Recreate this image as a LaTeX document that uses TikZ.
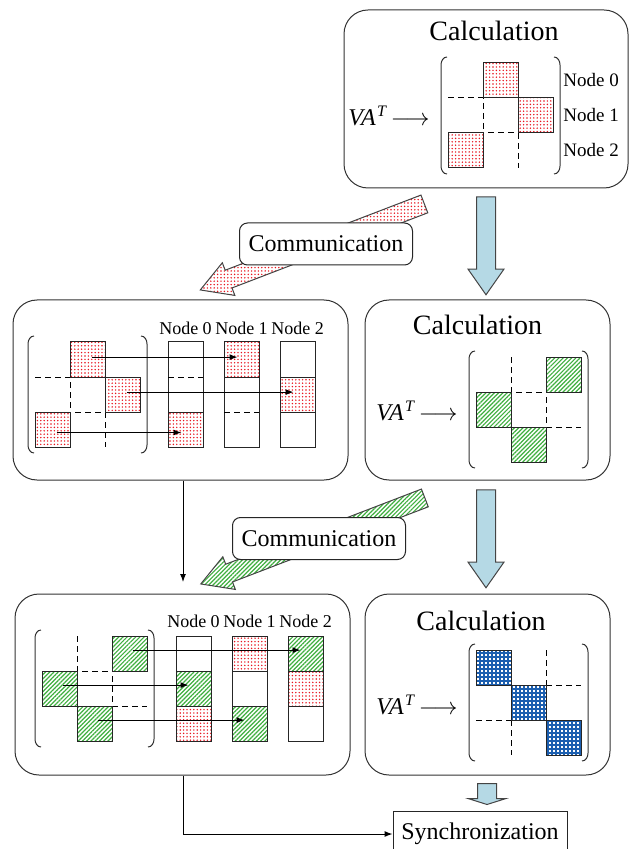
\documentclass[tikz,border=0pt]{standalone}
\usepackage{fontspec}
\setmainfont{Liberation Serif}
\usetikzlibrary{arrows.meta,positioning,shapes.arrows,patterns.meta}
\definecolor{dotred}{HTML}{E8141E}
\definecolor{hatchgreen}{HTML}{3FAF3F}
\definecolor{gridblue}{HTML}{1C5FB0}
\definecolor{flowblue}{HTML}{B5D9E5}
\definecolor{edgegray}{HTML}{444444}
\tikzset{
  stage/.style={rounded corners=12pt,draw=black!80,line width=0.5pt,inner sep=0pt},
  ttl/.style={font=\fontsize{14}{16}\selectfont,inner sep=0pt},
  nlbl/.style={font=\fontsize{9}{11}\selectfont,inner sep=0pt},
  vat/.style={font=\fontsize{12}{14}\selectfont,inner sep=0pt,anchor=east},
  cell/.style={draw=black!85,line width=0.5pt,minimum size=17.5pt,inner sep=0pt},
  col/.style={cell,minimum height=52.5pt},
  reddots/.style={preaction={fill=white},pattern={Dots[distance=1.7pt,radius=0.4pt]},pattern color=dotred},
  greenhatch/.style={preaction={fill=white},pattern={Lines[angle=45,distance=1.5pt,line width=0.6pt]},pattern color=hatchgreen},
  bluegrid/.style={preaction={fill=white},pattern={Hatch[angle=0,distance=2pt,line width=0.6pt]},pattern color=gridblue},
  sep/.style={dash pattern=on 3pt off 2pt,line width=0.5pt},
  brk/.style={line width=0.5pt,draw=black!80},
  ar/.style={-{Latex[length=4pt,width=3pt]},line width=0.5pt},
  fatdown/.style={single arrow,draw=edgegray,fill=flowblue,line width=0.5pt,rotate=-90,inner xsep=0pt,
    inner ysep=4.5pt,minimum height=49pt,single arrow head extend=4.25pt,single arrow tip angle=70},
  fatsend/.style={single arrow,draw=edgegray,line width=0.5pt,rotate=201,inner xsep=0pt,
    inner ysep=4.5pt,minimum height=120pt,single arrow head extend=4pt,single arrow tip angle=60},
  tag/.style={draw=black!85,fill=white,rounded corners=4pt,line width=0.5pt,font=\fontsize{12}{14}\selectfont,
    minimum width=86.5pt,minimum height=21pt,inner sep=0pt},
}
\newcommand{\vaT}{\textit{VA}\kern0.6pt\raisebox{4.5pt}{\fontsize{8}{9}\selectfont\textit{T}}\,$\longrightarrow$}
\begin{document}
\begin{tikzpicture}[x=0.5pt,y=-0.5pt]
  \useasboundingbox (0,0) rectangle (630,849);
  % stage boxes
  \node[stage,minimum width=142pt,minimum height=89pt] (calc1) at (486,99) {};
  \node[stage,minimum width=167.5pt,minimum height=90pt] (send1) at (180.5,390) {};
  \node[stage,minimum width=122.5pt,minimum height=90pt] (calc2) at (487.5,390) {};
  \node[stage,minimum width=167.5pt,minimum height=90.5pt] (send2) at (182.5,684.5) {};
  \node[stage,minimum width=122.5pt,minimum height=90.5pt] (calc3) at (487.5,684.5) {};
  \node[draw=black!85,line width=0.5pt,font=\fontsize{12}{14}\selectfont,minimum width=87pt,
    minimum height=23pt,inner sep=0pt] (sync) at (480,834) {Synchronization};
  \node[ttl] (t1) at (494,31) {Calculation};
  \node[ttl] (t2) at (477.5,325) {Calculation};
  \node[ttl] (t3) at (481,621) {Calculation};

  % first calculation, red blocks
  \draw[sep] (483,63) -- (483,168) (518,63) -- (518,168) (448,98) -- (553,98) (448,133) -- (553,133);
  \node[cell,reddots] (a0) at (500.5,80.5) {};
  \node[cell,reddots] (a1) at (535.5,115.5) {};
  \node[cell,reddots] (a2) at (465.5,150.5) {};
  \draw[brk] (447,57) to[out=180,in=90] (441,65) -- (441,166) to[out=-90,in=180] (447,174);
  \draw[brk] (554,57) to[out=0,in=90] (560,65) -- (560,166) to[out=-90,in=0] (554,174);
  \node[vat] (va1) at (430,116) {\vaT};
  \foreach \k/\y in {0/80.5,1/115.5,2/150.5}
    \node[nlbl,font=\fontsize{9.5}{11}\selectfont,anchor=west] (p\k) at (563,\y) {Node \k};

  % first communication, red blocks to the nodes
  \draw[sep] (70,342) -- (70,447) (105,342) -- (105,447) (35,377) -- (140,377) (35,412) -- (140,412);
  \node[cell,reddots] (b0) at (87.5,359.5) {};
  \node[cell,reddots] (b1) at (122.5,394.5) {};
  \node[cell,reddots] (b2) at (52.5,429.5) {};
  \draw[brk] (34,336) to[out=180,in=90] (28,344) -- (28,445) to[out=-90,in=180] (34,453);
  \draw[brk] (141,336) to[out=0,in=90] (147,344) -- (147,445) to[out=-90,in=0] (141,453);
  \foreach \k/\x in {0/185.5,1/241.5,2/297.5} {
    \node[col] (q\k) at (\x,394.5) {};
    \node[nlbl] at (\x,328) {Node \k};
  }
  \draw[sep] (168,377) -- (203,377) (224,412) -- (259,412);
  \node[cell,reddots] (r0) at (185.5,429.5) {};
  \node[cell,reddots] (r1) at (241.5,359.5) {};
  \node[cell,reddots] (r2) at (297.5,394.5) {};
  \draw[ar] ([xshift=2pt,yshift=1.2pt]b0.center) -- ([xshift=-2pt,yshift=1.2pt]r1.center);
  \draw[ar] ([xshift=2pt,yshift=1.2pt]b1.center) -- ([xshift=-2pt,yshift=1.2pt]r2.center);
  \draw[ar] ([xshift=2pt,yshift=-1.5pt]b2.center) -- ([xshift=-2pt,yshift=-1.5pt]r0.center);

  % second calculation, green blocks
  \draw[sep] (511,357) -- (511,462) (546,357) -- (546,462) (476,392) -- (581,392) (476,427) -- (581,427);
  \node[cell,greenhatch] (c0) at (563.5,374.5) {};
  \node[cell,greenhatch] (c1) at (493.5,409.5) {};
  \node[cell,greenhatch] (c2) at (528.5,444.5) {};
  \draw[brk] (475,351) to[out=180,in=90] (469,359) -- (469,460) to[out=-90,in=180] (475,468);
  \draw[brk] (582,351) to[out=0,in=90] (588,359) -- (588,460) to[out=-90,in=0] (582,468);
  \node[vat] (va2) at (458,411) {\vaT};

  % second communication, green blocks to the nodes
  \draw[sep] (77,636) -- (77,741) (112,636) -- (112,741) (42,671) -- (147,671) (42,706) -- (147,706);
  \node[cell,greenhatch] (d0) at (129.5,653.5) {};
  \node[cell,greenhatch] (d1) at (59.5,688.5) {};
  \node[cell,greenhatch] (d2) at (94.5,723.5) {};
  \draw[brk] (41,630) to[out=180,in=90] (35,638) -- (35,739) to[out=-90,in=180] (41,747);
  \draw[brk] (148,630) to[out=0,in=90] (154,638) -- (154,739) to[out=-90,in=0] (148,747);
  \foreach \k/\x in {0/193.5,1/249.5,2/305.5} {
    \node[col] (s\k) at (\x,688.5) {};
    \node[nlbl] at (\x,621) {Node \k};
  }
  \node[cell,greenhatch] (g0) at (193.5,688.5) {};
  \node[cell,reddots] at (193.5,723.5) {};
  \node[cell,reddots] at (249.5,653.5) {};
  \node[cell,greenhatch] (g1) at (249.5,723.5) {};
  \node[cell,greenhatch] (g2) at (305.5,653.5) {};
  \node[cell,reddots] at (305.5,688.5) {};
  \draw[ar] ([xshift=1.5pt,yshift=1.7pt]d0.center) -- ([xshift=-2.5pt,yshift=1.7pt]g2.center);
  \draw[ar] ([xshift=1.5pt,yshift=1.7pt]d1.center) -- ([xshift=-2.5pt,yshift=1.7pt]g0.center);
  \draw[ar] ([xshift=1.5pt,yshift=1.7pt]d2.center) -- ([xshift=-2.5pt,yshift=1.7pt]g1.center);

  % third calculation, blue blocks
  \draw[sep] (511,650) -- (511,755) (546,650) -- (546,755) (476,685) -- (581,685) (476,720) -- (581,720);
  \node[cell,bluegrid] (e0) at (493.5,667.5) {};
  \node[cell,bluegrid] (e1) at (528.5,702.5) {};
  \node[cell,bluegrid] (e2) at (563.5,737.5) {};
  \draw[brk] (475,644) to[out=180,in=90] (469,652) -- (469,753) to[out=-90,in=180] (475,761);
  \draw[brk] (582,644) to[out=0,in=90] (588,652) -- (588,753) to[out=-90,in=0] (582,761);
  \node[vat] (va3) at (458,705) {\vaT};

  % flow arrows
  \node[fatdown] (down1) at (486,239) {};
  \node[fatdown] (down2) at (486,532) {};
  \node[fatdown,minimum height=10.5pt,single arrow head extend=4.5pt,
    single arrow tip angle=145] (down3) at (487,792.5) {};
  \node[fatsend,reddots] (move1) at (320,244) {};
  \node[tag] (comm1) at (326,244) {Communication};
  \node[fatsend,greenhatch] (move2) at (320.5,538) {};
  \node[tag] (comm2) at (319,538.5) {Communication};

  \coordinate (drop) at (183,582);
  \draw[ar] (send1.south -| drop) -- (drop);
  \draw[ar] (send2.south -| drop) |- (sync.west);
\end{tikzpicture}
\end{document}
